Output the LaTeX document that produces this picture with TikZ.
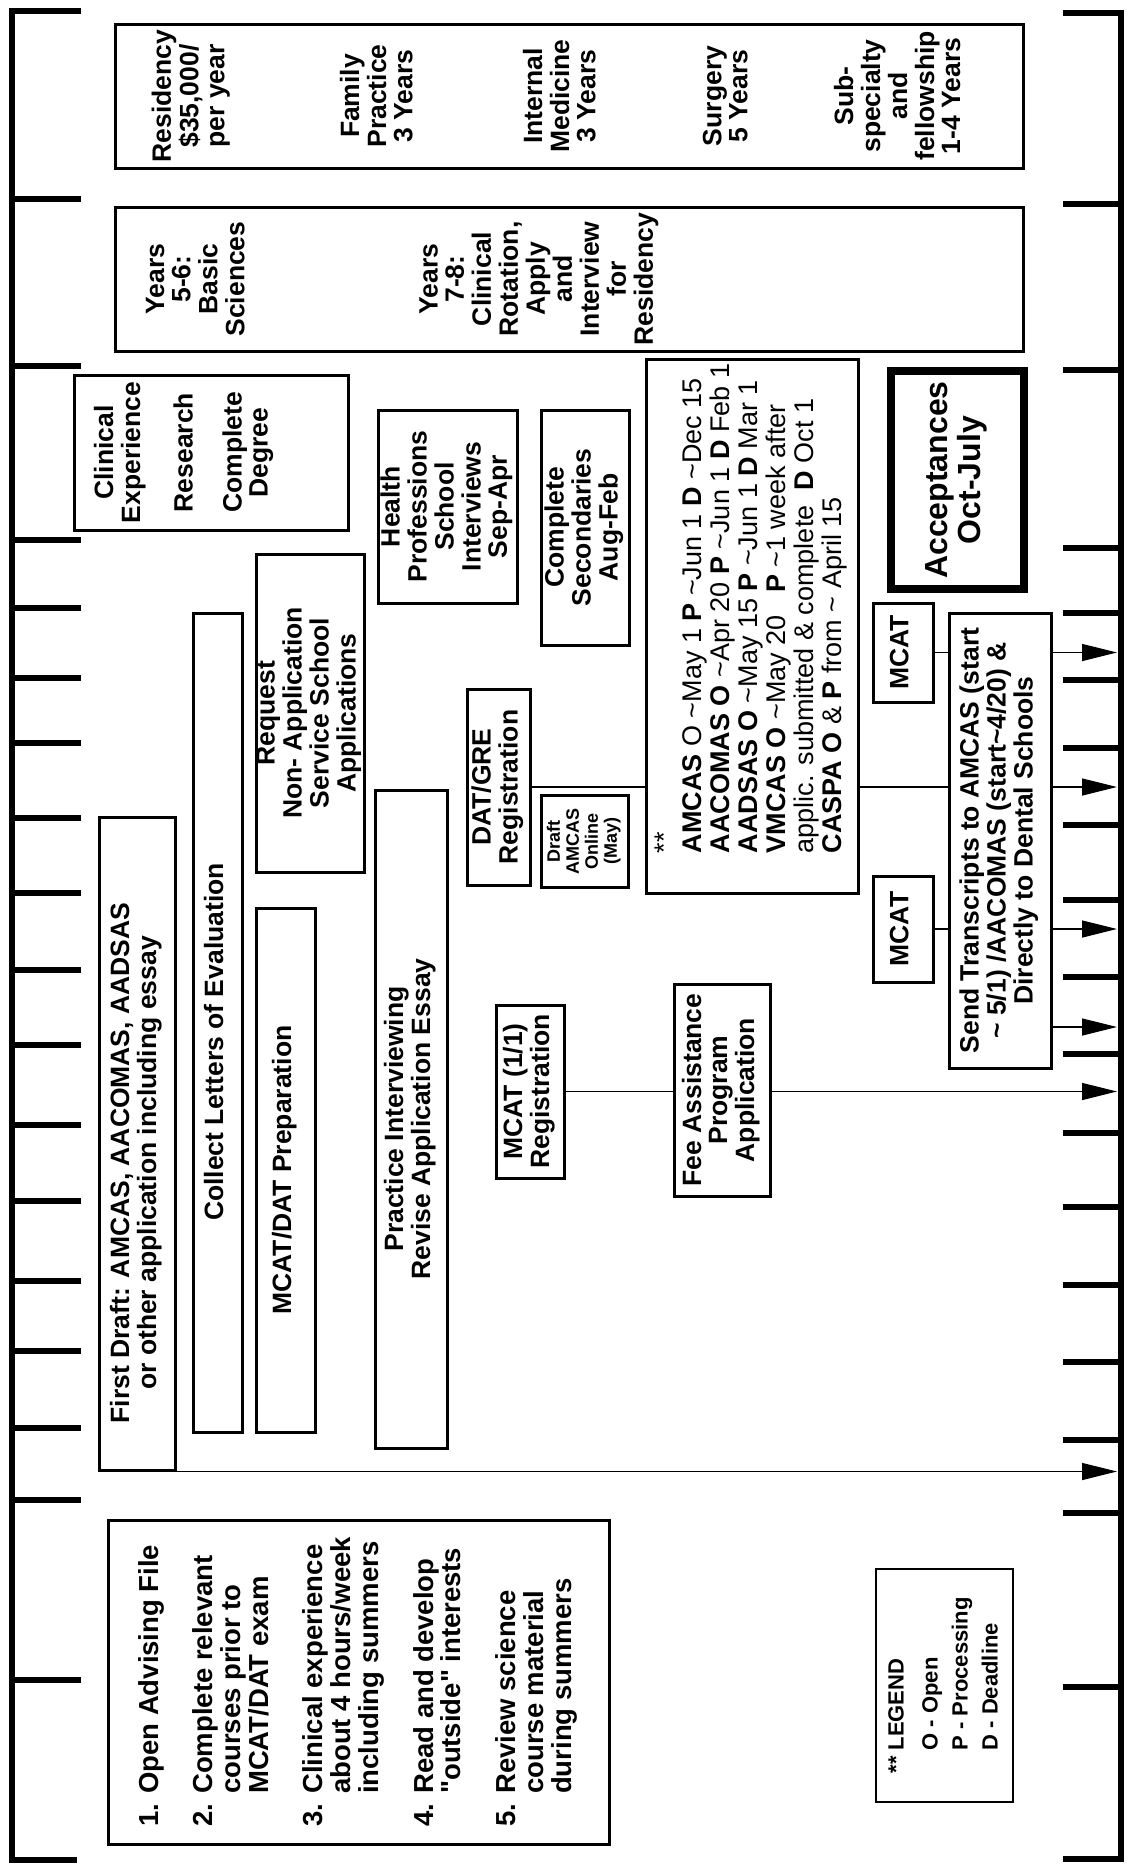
\documentclass[tikz,border=0pt]{standalone}
\usepackage{fontspec}
\setmainfont{Liberation Sans}[Ligatures=TeXOff]
\usepackage{graphicx}
\usetikzlibrary{arrows.meta}
\newcommand\boxfont{\bfseries\fontsize{26.5}{26}\selectfont}
\newcommand\vtxt[1]{\rotatebox{90}{\begin{tabular}{@{}c@{}}#1\end{tabular}}}
\newcommand\vtxtl[1]{\rotatebox{90}{\begin{tabular}{@{}l@{}}#1\end{tabular}}}
\newcommand\tl{\textasciitilde}

\begin{document}
\begin{tikzpicture}[x=1pt, y=-1pt,
  box/.style={draw, line width=3pt, inner sep=0pt, font=\boxfont},
  vlabel/.style={inner sep=0pt, font=\boxfont},
  wh/.style 2 args={minimum width=#1pt, minimum height=#2pt},
  bar/.style={line width=6pt},
  conn/.style={line width=1.3pt},
  arr/.style={conn, -{Triangle[length=35pt, width=17pt]}}]

  \fill [white] (0, 0) rectangle (1127, 1871);
  \useasboundingbox (0, 0) rectangle (1127, 1871);

  % time bars
  \draw [bar] (81, 11) -- (12, 11) -- (12, 1860) -- (77, 1860);
  \foreach \y in {199, 366, 540, 608, 678, 743, 818, 893, 970, 1045, 1125, 1201, 1281, 1351, 1428, 1500, 1680} {
    \draw [bar] (12, \y) -- (81, \y);
  }
  \draw [bar] (1063, 13) -- (1121, 13) -- (1121, 1859) -- (1063, 1859);
  \foreach \y in {204, 370, 548, 613, 680, 748, 825, 900, 977, 1054, 1133, 1207, 1285, 1362, 1440, 1513, 1687} {
    \draw [bar] (1063, \y) -- (1121, \y);
  }
  \coordinate (barR) at (1117, 0);

  % residency
  \node [box, wh={908}{144}] (res) at (569, 96) {};
  \node [vlabel] (resA) at (192, 96) {\vtxt{Residency\\\$35,000/\\per year}};
  \node [vlabel] (resB) at (380, 96) {\vtxt{Family\\Practice\\3 Years}};
  \node [vlabel] (resC) at (563, 96) {\vtxt{Internal\\Medicine\\3 Years}};
  \node [vlabel] (resD) at (729, 96) {\vtxt{Surgery\\5 Years}};
  \node [vlabel] (resE) at (901, 96) {\vtxt{Sub-\\specialty\\and\\fellowship\\1-4 Years}};

  % medical school
  \node [box, wh={908}{144}] (yrs) at (569, 279) {};
  \node [vlabel] (yrsA) at (199, 279) {\vtxt{Years\\5-6:\\Basic\\Sciences}};
  \node [vlabel] (yrsB) at (540, 279) {\vtxt{Years\\7-8:\\Clinical\\Rotation,\\Apply\\and\\Interview\\for\\Residency}};

  % senior year
  \node [box, wh={274}{155}] (clin) at (211, 452.5) {};
  \node [vlabel] (clinA) at (121, 452.5) {\vtxt{Clinical\\Experience}};
  \node [vlabel] (clinB) at (187, 452.5) {\vtxt{Research}};
  \node [vlabel] (clinC) at (249, 452.5) {\vtxt{Complete\\Degree}};
  \node [box, wh={139}{193}] (health) at (447.5, 506.5) {\vtxt{Health\\Professions\\School\\Interviews\\Sep-Apr}};
  \node [box, wh={88}{235}] (second) at (585, 527.5) {\vtxt{Complete\\Secondaries\\Aug-Feb}};
  \node [box, wh={212}{534}] (amcas) at (752, 626) {};
  \node [vlabel, font=\mdseries\fontsize{27}{28}\selectfont] (amcastext) at (752, 608.5) {\vtxtl{**\\
    \textbf{AMCAS} O \tl May 1 \textbf{P} \tl Jun 1 \textbf{D} \tl Dec 15\\
    \textbf{AACOMAS O} \tl Apr 20 \textbf{P} \tl Jun 1 \textbf{D} Feb 1\\
    \textbf{AADSAS O} \tl May 15 \textbf{P} \tl Jun 1 \textbf{D} Mar 1\\
    \textbf{VMCAS O} \tl May 20\ \ \ \textbf{P} \tl 1 week after\\
    applic. submitted \& complete\ \ \textbf{D} Oct 1\\
    \textbf{CASPA O} \& \textbf{P} from \tl{} April 15}};
  \node [box, line width=8pt, wh={133}{218}, font=\bfseries\fontsize{32}{31}\selectfont] (accept) at (957.5, 480) {\vtxt{Acceptances\\Oct-July}};

  % junior year
  \node [box, wh={60}{99}] (mcatA) at (903, 652.5) {\vtxt{MCAT}};
  \node [box, wh={60}{106}] (mcatB) at (903, 929) {\vtxt{MCAT}};
  \node [box, wh={102}{455}] (send) at (1000, 840.5) {\vtxt{Send Transcripts to AMCAS (start\\\tl{} 5/1) /AACOMAS (start\tl 4/20) \&\\Directly to Dental Schools}};
  \node [box, wh={63}{196}] (datgre) at (498.5, 787) {\vtxt{DAT/GRE\\Registration}};
  \node [box, wh={87}{92}, font=\bfseries\fontsize{18}{19}\selectfont] (draft) at (584.5, 841) {\vtxt{Draft\\AMCAS\\Online\\(May)}};
  \node [box, wh={108}{318}] (request) at (310, 713) {\vtxt{Request\\Non- Application\\Service School\\Applications}};
  \node [box, wh={76}{653}] (first) at (137, 1143.5) {};
  \node [vlabel] (firsttext) at (137, 1163) {\vtxt{First Draft: AMCAS, AACOMAS, AADSAS\\or other application including essay}};
  \node [box, wh={49}{819}] (collect) at (217.5, 1022.5) {};
  \node [vlabel] (collecttext) at (217.5, 1042) {\vtxt{Collect Letters of Evaluation}};
  \node [box, wh={59}{524}] (prep) at (285.5, 1170) {\vtxt{MCAT/DAT Preparation}};
  \node [box, wh={72}{658}] (practice) at (411, 1119) {\vtxt{Practice Interviewing\\Revise Application Essay}};
  \node [box, wh={68}{173}] (mcatreg) at (530, 1091.5) {\vtxt{MCAT (1/1)\\Registration}};
  \node [box, wh={96}{212}] (fee) at (722, 1090) {\vtxt{Fee Assistance\\Program\\Application}};

  % freshman and sophomore
  \node [box, wh={501}{324}, font=\bfseries\fontsize{27.5}{26}\selectfont] (steps) at (358.5, 1682) {\rotatebox{90}{\begin{tabular}{@{}l@{ }l@{}}
    1. & Open Advising File\\[27pt]
    2. & Complete relevant\\ & courses prior to\\ & MCAT/DAT exam\\[27pt]
    3. & Clinical experience\\ & about 4 hours/week\\ & including summers\\[27pt]
    4. & Read and develop\\ & "outside" interests\\[27pt]
    5. & Review science\\ & course material\\ & during summers
  \end{tabular}}};
  \node [box, line width=1.5pt, wh={137}{233}, font=\bfseries\fontsize{22}{30}\selectfont] (legend) at (944.5, 1685.5) {\vtxtl{** LEGEND\\[4pt]\phantom{** }O - Open\\\phantom{** }P - Processing\\\phantom{** }D - Deadline}};

  % connectors
  \draw [conn] (mcatA.east) -- (mcatA.east -| send.west);
  \draw [arr] (mcatA.east -| send.east) -- (mcatA.east -| barR);
  \draw [conn] (datgre.east) -- (datgre.east -| amcas.west);
  \draw [conn] (datgre.east -| amcas.east) -- (datgre.east -| send.west);
  \draw [arr] (datgre.east -| send.east) -- (datgre.east -| barR);
  \draw [conn] (mcatB.east) -- (mcatB.east -| send.west);
  \draw [arr] (mcatB.east -| send.east) -- (mcatB.east -| barR);
  \coordinate (sendtip) at (1117, 1027);
  \draw [arr] (send.east |- sendtip) -- (sendtip);
  \draw [conn] (mcatreg.east) -- (mcatreg.east -| fee.west);
  \draw [arr] (fee.east |- mcatreg.east) -- (mcatreg.east -| barR);
  \draw [arr] (first.south east) -- (first.south east -| barR);
\end{tikzpicture}
\end{document}
